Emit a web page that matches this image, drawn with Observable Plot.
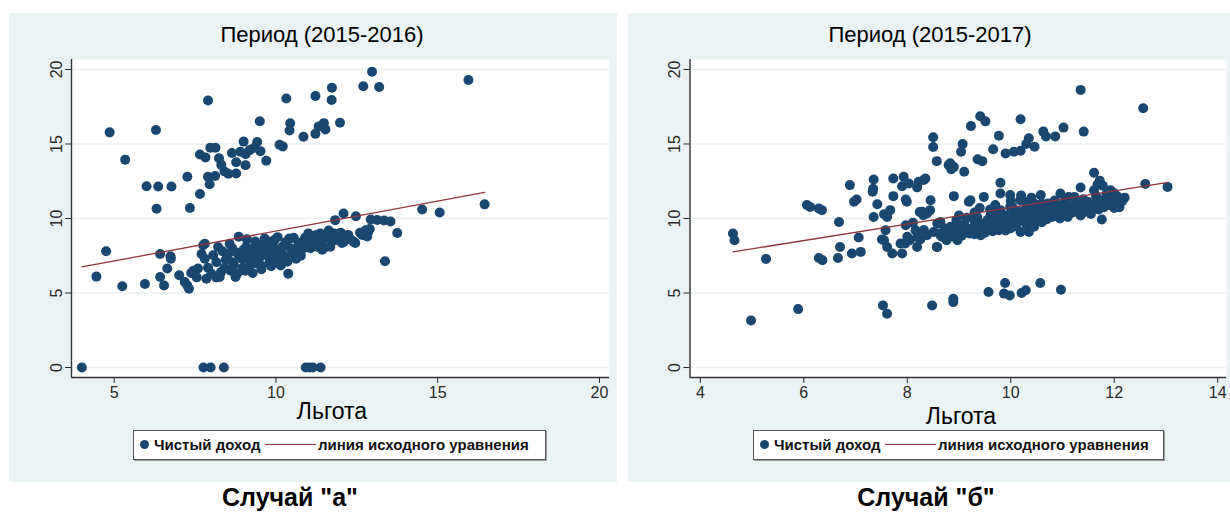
<!DOCTYPE html>
<html><head><meta charset="utf-8">
<script src="https://cdn.jsdelivr.net/npm/d3@7"></script>
<script src="https://cdn.jsdelivr.net/npm/@observablehq/plot@0.6"></script>
<style>
html,body{margin:0;padding:0;background:#fff;}
body{width:1230px;height:514px;position:relative;overflow:hidden;font-family:"Liberation Sans",Arial,sans-serif;}
.panel{position:absolute;top:13px;height:469px;background:#eaf2f3;}
.t{position:absolute;transform:translate(-50%,-50%);white-space:nowrap;color:#000;line-height:1;}
.title{font-size:22px;}
.xlab{font-size:23px;}
.cap{font-size:25px;font-weight:bold;}
.legend{position:absolute;height:30px;background:#fff;border:1.5px solid #555;box-sizing:border-box;box-shadow:1px 1px 0 #999;}
.legend .dot{position:absolute;left:6px;top:9px;width:9px;height:9px;border-radius:50%;background:#1a476f;}
.legend .txt{position:absolute;top:5px;font-size:15px;font-weight:bold;color:#111;white-space:nowrap;line-height:18px;}
.legend .ln{position:absolute;top:13px;height:0;border-top:1.4px solid #90353b;}
.chart{position:absolute;top:13px;}
</style></head><body>
<script>
// ---------- data ----------
const titles = ["Период (2015-2016)", "Период (2015-2017)"];
const captions = ["Случай \"а\"", "Случай \"б\""];
const xLabel = "Льгота";
const legendDots = "Чистый доход";
const legendLine = "линия исходного уравнения";
const yTicks = [0, 5, 10, 15, 20];
const xTicksA = [5, 10, 15, 20];
const xTicksB = [4, 6, 8, 10, 12, 14];

// Case "a": [benefit, net income]
const pointsA = [
[4.86,15.78],[5.34,13.95],[6.29,15.94],[6.0,12.17],[6.36,12.15],[6.77,12.15],[6.31,10.65],[7.26,12.8],[7.34,10.7],[7.65,11.65],
[7.9,17.92],[7.65,14.3],[7.82,14.1],[7.97,14.75],[8.13,14.75],[7.9,12.8],[7.95,12.3],[8.12,12.85],[8.24,14.04],[8.31,13.6],
[8.41,13.15],[8.53,13.0],[8.64,14.4],[8.77,13.02],[8.77,13.77],[9.0,15.16],[8.9,14.48],[9.06,14.32],[9.06,13.58],[9.19,14.59],
[9.42,15.13],[9.33,14.75],[9.52,14.52],[9.5,16.53],[9.7,13.88],[10.11,14.95],[10.21,14.84],[10.32,18.05],[10.44,16.39],[10.42,15.9],
[10.85,15.48],[11.22,18.22],[11.22,15.68],[11.32,16.17],[11.48,16.4],[11.53,15.98],[11.73,18.78],[11.72,17.95],[11.98,16.42],[12.7,18.87],
[12.97,19.85],[13.19,18.82],[15.95,19.3],
[4.0,0],[7.76,0],[7.98,0],[8.39,0],[10.92,0],[11.04,0],[11.14,0],[11.38,0],
[4.45,6.1],[4.75,7.8],[5.25,5.45],[5.95,5.6],[6.42,7.62],[6.74,7.46],[6.64,6.64],[6.42,6.07],[6.54,5.51],[6.75,7.3],
[7.01,6.19],[7.18,5.74],[7.31,5.29],[7.26,5.5],[7.38,6.34],[7.45,6.5],[7.55,6.05],[7.59,6.64],[7.75,8.2],[7.7,7.62],
[7.8,8.3],[7.8,7.3],[7.85,5.96],[7.9,6.7],[8.0,6.3],[8.06,7.53],[8.21,8.09],[8.16,7.06],[8.15,6.05],[8.26,6.07],
[8.3,6.4],[8.35,7.8],[8.41,6.7],[8.45,7.25],[8.52,7.6],[8.57,8.3],[8.6,6.5],[8.65,8.0],[8.67,7.06],[8.7,6.9],
[8.75,6.07],[8.8,7.7],[8.8,6.3],[8.85,8.77],[8.87,7.5],[8.95,7.3],[8.97,6.7],[9.0,7.9],[9.05,6.5],[9.08,8.1],
[9.1,8.6],[9.15,7.55],[9.18,7.2],[9.2,6.9],[9.28,6.34],[9.3,8.0],[9.3,7.3],[9.36,8.45],[9.4,7.0],[9.44,7.65],
[9.5,8.2],[9.5,7.4],[9.54,6.85],[9.55,6.6],[9.6,7.9],[9.65,8.65],[9.7,7.87],[9.75,7.5],[9.75,8.45],[9.8,7.07],
[9.85,6.8],[9.9,8.3],[9.9,7.75],[9.95,8.55],[10.0,7.5],[10.05,8.75],[10.05,7.2],[10.1,7.9],[10.15,6.85],[10.2,8.1],
[10.25,7.5],[10.3,8.4],[10.35,7.1],[10.38,6.3],[10.41,8.65],[10.45,8.0],[10.51,7.65],[10.55,8.7],[10.62,7.3],[10.6,7.7],
[10.7,8.3],[10.7,7.8],[10.77,7.5],[10.8,8.4],[10.85,8.0],[10.9,8.7],[10.97,8.2],[11.0,9.0],[11.07,8.0],[11.1,8.4],
[11.17,8.8],[11.25,8.9],[11.28,8.1],[11.28,8.55],[11.37,9.0],[11.43,8.45],[11.43,7.9],[11.48,8.0],[11.53,8.9],[11.6,8.7],
[11.63,9.2],[11.68,8.1],[11.8,9.0],[11.83,9.89],[11.85,8.55],[11.95,8.9],[12.0,9.05],[12.04,8.35],[12.09,10.34],[12.1,8.45],
[12.23,8.9],[12.3,8.6],[12.4,8.45],[12.45,8.35],[12.47,10.15],[12.6,9.05],[12.67,8.9],[12.77,9.21],[12.82,8.8],[12.85,9.1],
[12.9,9.3],[12.93,9.93],[13.13,9.9],[13.34,9.86],[13.54,9.8],[13.75,9.03],[13.37,7.13],[14.52,10.6],[15.06,10.4],[16.45,10.95]
];
const lineA = [[4.0, 6.75], [16.45, 11.75]];

// Case "b": [benefit, net income]
const pointsB = [
[4.98,3.16],[5.89,3.92],[7.53,4.17],[7.61,3.61],[8.48,4.17],[8.89,4.62],[8.89,4.39],[9.57,5.07],[9.89,5.67],[9.87,4.96],
[9.98,4.84],[10.21,5.0],[10.29,5.18],[10.57,5.67],[10.97,5.22],
[4.63,8.99],[4.66,8.54],[5.27,7.29],[6.06,10.9],[6.12,10.78],[6.29,10.67],[6.35,10.56],[6.29,7.35],[6.36,7.2],[6.68,9.77],
[6.7,8.09],[6.66,7.35],[6.93,7.65],[6.89,12.24],[6.97,11.12],[7.02,11.28],[7.06,8.72],[7.1,7.76],[7.35,12.62],[7.34,12.0],
[7.33,11.8],[7.42,10.96],[7.35,10.1],[7.55,10.29],[7.61,10.1],[7.67,10.56],[7.73,12.69],[7.73,11.5],[7.93,12.8],[7.9,12.17],
[8.03,12.35],[8.19,12.09],[8.22,12.47],[8.35,12.69],[7.97,11.28],[7.99,11.13],[8.45,11.23],[7.58,9.21],[7.51,8.59],[7.61,8.09],
[7.71,7.65],[7.87,8.32],[7.9,7.65],[8.05,8.54],[8.16,9.21],[7.97,9.55],[8.24,10.44],[8.31,10.22],[8.44,10.56],[8.25,8.59],
[8.19,8.09],[8.38,8.88],[8.51,9.1],[8.6,9.66],[8.67,8.77],[8.57,8.09],[8.73,9.33],[8.76,8.54],[8.11,9.71],[8.29,10.45],
[8.38,10.34],[8.32,9.22],[8.64,8.88],[7.55,8.54],[7.96,8.32],[8.0,8.77],[8.19,8.77],
[8.5,15.45],[8.5,14.8],[8.57,13.85],[8.8,13.58],[8.83,13.7],[8.85,13.3],[8.9,13.45],[9.1,13.14],[9.07,15.0],[9.04,14.48],
[9.23,16.2],[9.41,16.86],[9.51,16.52],[9.36,13.97],[9.45,13.85],[9.66,14.65],[9.77,15.55],[9.9,14.37],[10.06,14.48],[10.19,16.66],
[10.19,14.55],[10.3,15.0],[10.35,15.38],[10.46,14.82],[10.63,15.83],[10.68,15.5],[10.86,15.5],[11.02,16.1],[11.41,15.83],[11.35,18.63],
[12.56,17.4],[8.32,12.58],[9.8,12.4],[11.61,13.07],[11.72,12.54],[11.35,12.08],[12.6,12.31],[13.03,12.12],[11.76,9.93],
[8.9,11.5],[9.19,11.12],[9.48,11.45],[9.8,11.68],[9.99,11.57],[10.18,11.23],[10.33,11.12],[10.58,11.57],[10.72,11.0],[10.96,11.68],
[11.12,11.45],[8.64,9.77],[8.84,8.99],[9.0,9.43],[9.16,9.21],[9.29,9.89],[9.35,10.1],[9.48,9.66],[9.61,10.22],[9.67,9.44],
[9.8,10.56],[9.93,9.89],[10.03,10.78],[10.19,10.22],[10.19,9.1],[10.35,9.1],[10.32,10.56],[10.45,10.89],[10.54,10.1],[10.64,10.44],
[10.77,10.78],[10.9,10.22],[11.03,10.67],[11.12,10.33],[8.71,8.77],[8.97,8.54],[9.42,8.88],[9.77,9.21],[9.96,9.44],[11.93,11.9],
[12.13,11.34],[12.06,10.9],[11.87,11.23],[11.55,10.7],[11.61,11.9],[11.23,11.45],[10.84,10.9],[10.71,10.33],[10.45,11.0],[10.32,10.33],
[9.99,10.78],[10.12,10.33],[9.74,10.33],[9.55,9.89],[9.35,9.44],[9.22,11.23],[9.16,9.33],[9.03,8.99],[8.9,8.77],[8.84,9.44],
[8.58,8.09],[8.58,9.66],[8.64,8.99],
[8.85,9.1],[8.95,9.3],[9.05,8.85],[9.1,9.6],[9.2,9.0],[9.25,9.35],[9.3,8.95],[9.35,9.7],[9.4,9.2],[9.45,9.5],
[9.5,9.05],[9.55,9.35],[9.6,9.75],[9.65,9.15],[9.7,9.6],[9.75,9.9],[9.8,9.4],[9.85,9.75],[9.9,10.2],[9.9,9.2],
[9.95,9.65],[10.0,10.0],[10.0,9.35],[10.05,10.4],[10.1,9.75],[10.1,9.5],[10.15,10.5],[10.2,9.85],[10.25,10.1],[10.3,9.6],
[10.3,10.75],[10.35,10.0],[10.4,9.7],[10.4,10.4],[10.45,9.45],[10.5,10.7],[10.5,9.9],[10.55,10.3],[10.6,9.75],[10.6,11.0],
[10.65,10.1],[10.7,9.95],[10.75,10.55],[10.8,10.1],[10.85,11.2],[10.9,10.5],[10.95,10.0],[11.0,10.9],[11.0,10.3],[11.05,11.2],
[11.1,10.1],[11.15,10.8],[11.2,10.4],[11.25,11.0],[11.3,10.6],[11.35,10.2],[11.4,11.3],[11.4,10.8],[11.45,10.45],[11.5,11.1],
[11.55,10.3],[11.6,10.9],[11.65,11.5],[11.7,10.6],[11.75,11.2],[11.8,10.75],[11.85,11.65],[11.9,10.9],[11.95,11.3],[12.0,11.0],
[12.05,11.5],[12.1,10.75],[12.15,11.15],[12.2,11.4],[12.0,10.7],[11.78,12.2],[11.68,12.3],[12.0,11.7],[9.15,10.05],[9.3,10.4],
[9.0,10.2],[8.95,9.9],[9.6,10.6],[10.0,11.15],[10.4,11.4],[10.2,11.55],[9.7,10.9],[9.4,10.7]
];
const lineB = [[4.63, 7.76], [13.04, 12.42]];

// ---------- layout ----------
const panels = [
  {left: 9, width: 608, ml: 62, mr: 8, xDomain: [3.68, 20.31], xTicks: xTicksA, pts: pointsA, line: lineA,
   titleX: 322, xlabX: 332, xlabY: 411, capX: 290, legL: 133, legW: 413},
  {left: 628, width: 602, ml: 61.5, mr: 4, xDomain: [3.80, 14.17], xTicks: xTicksB, pts: pointsB, line: lineB,
   titleX: 930, xlabX: 961, xlabY: 416, capX: 926, legL: 753, legW: 411}
];
const yDomain = [-0.67, 20.67];

function el(tag, cls, style, text) {
  const e = document.createElement(tag);
  if (cls) e.className = cls;
  Object.assign(e.style, style || {});
  if (text != null) e.textContent = text;
  document.body.appendChild(e);
  return e;
}

panels.forEach((p, i) => {
  el("div", "panel", {left: p.left + "px", width: p.width + "px"});
  const chart = Plot.plot({
    width: p.width, height: 400,
    marginLeft: p.ml, marginRight: p.mr, marginTop: 46, marginBottom: 36,
    style: {background: "transparent", fontFamily: "'Liberation Sans', Arial, sans-serif", fontSize: "16px", color: "#2a2a2a", overflow: "visible"},
    x: {domain: p.xDomain},
    y: {domain: yDomain},
    marks: [
      Plot.frame({fill: "white", stroke: "none"}),
      Plot.gridY({ticks: yTicks, stroke: "#eaf2f3", strokeOpacity: 1, strokeWidth: 1.6}),
      Plot.ruleX([p.xDomain[0]], {stroke: "#333", strokeWidth: 1.4}),
      Plot.ruleY([yDomain[0]], {stroke: "#333", strokeWidth: 1.4}),
      Plot.axisY({ticks: yTicks, tickRotate: -90, tickSize: 6, tickPadding: 4, label: null, fontSize: 16}),
      Plot.axisX({ticks: p.xTicks, tickSize: 6, tickPadding: 3, label: null, fontSize: 16}),
      Plot.dot(p.pts, {x: d => d[0], y: d => d[1], r: 5, fill: "#1a476f", stroke: "none"}),
      Plot.line(p.line, {x: d => d[0], y: d => d[1], stroke: "#90353b", strokeWidth: 1.3})
    ]
  });
  chart.classList.add("chart");
  chart.style.left = p.left + "px";
  chart.style.position = "absolute";
  chart.style.top = "13px";
  document.body.appendChild(chart);

  el("div", "t title", {left: p.titleX + "px", top: "35px"}, titles[i]);
  el("div", "t xlab", {left: p.xlabX + "px", top: p.xlabY + "px"}, xLabel);
  el("div", "t cap", {left: p.capX + "px", top: "497px"}, captions[i]);

  const leg = el("div", "legend", {left: p.legL + "px", top: "430px", width: p.legW + "px"});
  const d = document.createElement("div"); d.className = "dot"; leg.appendChild(d);
  const t1 = document.createElement("div"); t1.className = "txt"; t1.style.left = "20px"; t1.textContent = legendDots; leg.appendChild(t1);
  const ln = document.createElement("div"); ln.className = "ln"; ln.style.left = "131px"; ln.style.width = "51px"; leg.appendChild(ln);
  const t2 = document.createElement("div"); t2.className = "txt"; t2.style.left = "184px"; t2.textContent = legendLine; leg.appendChild(t2);
});
</script>
</body></html>
